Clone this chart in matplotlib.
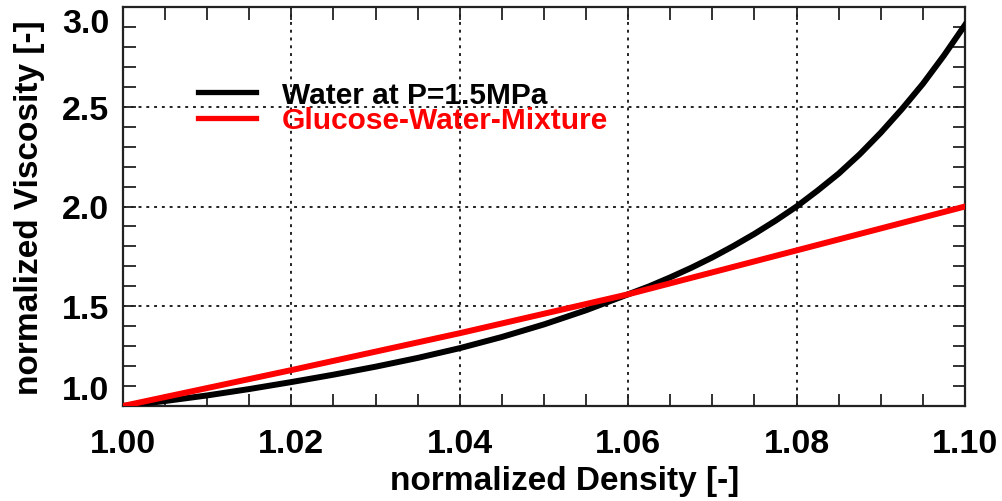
import numpy as np
import matplotlib
matplotlib.use("Agg")
import matplotlib.pyplot as plt
from matplotlib.ticker import MultipleLocator
import matplotlib.transforms as mtransforms

plt.rcParams['font.family'] = ['Liberation Sans', 'DejaVu Sans']

# Wasser bei 1.5 MPa
dens_water = np.array([1.000, 1.005, 1.010, 1.015, 1.020, 1.025, 1.030, 1.035, 1.040, 1.045,
                       1.050, 1.055, 1.060, 1.0625, 1.065, 1.0675, 1.070, 1.0725, 1.075, 1.0775,
                       1.080, 1.0825, 1.085, 1.0875, 1.090, 1.0925, 1.095, 1.0975, 1.100])
visc_water = np.array([1.000, 1.025, 1.053, 1.085, 1.120, 1.157, 1.197, 1.241, 1.290, 1.346,
                       1.409, 1.480, 1.560, 1.600, 1.645, 1.693, 1.745, 1.802, 1.863, 1.929,
                       2.000, 2.080, 2.165, 2.262, 2.370, 2.488, 2.615, 2.757, 2.910])

# Glukose-Wasser-Gemisch
dens_gluc = np.array([1.00, 1.02, 1.04, 1.06, 1.08, 1.10])
visc_gluc = np.array([1.00, 1.18, 1.365, 1.56, 1.78, 2.00])

xticks = [1.00, 1.02, 1.04, 1.06, 1.08, 1.10]
yticks = [1.0, 1.5, 2.0, 2.5, 3.0]

fig = plt.figure(figsize=(10.02, 5.02), dpi=100)
ax = fig.add_axes([123/1002, 1 - 407/502, (965 - 123)/1002, (407 - 8)/502])

ax.plot(dens_water, visc_water, color='black', lw=4.3, label='Water at P=1.5MPa',
        solid_joinstyle='round', zorder=3)
ax.plot(dens_gluc, visc_gluc, color='#ff0000', lw=4.3, label='Glucose-Water-Mixture',
        solid_joinstyle='round', zorder=4)

ax.set_xlim(1.0, 1.1)
ax.set_ylim(1.0, 3.0)
ax.set_xticks(xticks)
ax.set_xticklabels([f"{v:.2f}" for v in xticks])
ax.set_yticks(yticks)
ax.set_yticklabels([f"{v:.1f}" for v in yticks])
ax.xaxis.set_minor_locator(MultipleLocator(0.005))
ax.yaxis.set_minor_locator(MultipleLocator(0.1))

ax.tick_params(which='both', direction='in', top=True, right=True, width=1.3, color='#222222')
ax.tick_params(which='major', length=9, labelsize=24.5)
ax.tick_params(axis='x', which='major', pad=16)
ax.tick_params(axis='y', which='major', pad=10)
ax.tick_params(which='minor', length=9)
for lab in ax.get_xticklabels() + ax.get_yticklabels():
    lab.set_fontweight('bold')

# Beschriftungen 3.0 und 1.0 wie im Original leicht nach innen verschoben
ylabs = ax.get_yticklabels()
ylabs[-1].set_transform(ylabs[-1].get_transform() +
                        mtransforms.ScaledTranslation(0, -13/100, fig.dpi_scale_trans))
ylabs[0].set_transform(ylabs[0].get_transform() +
                       mtransforms.ScaledTranslation(0, 19/100, fig.dpi_scale_trans))

for s in ax.spines.values():
    s.set_linewidth(1.6)
    s.set_color('#222222')

ax.grid(True, which='major', color='#222222', linestyle=(0, (1.5, 2.5)), linewidth=1.4)

ax.set_xlabel("normalized Density [-]", fontsize=24, fontweight='bold')
ax.xaxis.set_label_coords(0.525, -0.148)
ax.set_ylabel("normalized Viscosity [-]", fontsize=24, fontweight='bold', labelpad=12)

leg = ax.legend(loc='upper left', bbox_to_anchor=(0.075, 0.845), frameon=False,
                prop={'size': 21.5, 'weight': 'bold'}, handlelength=1.95, handletextpad=0.85,
                labelspacing=-0.08, labelcolor='linecolor', borderaxespad=0)
for ln in leg.get_lines():
    ln.set_linewidth(3.8)

fig.savefig("out.png", dpi=100)
